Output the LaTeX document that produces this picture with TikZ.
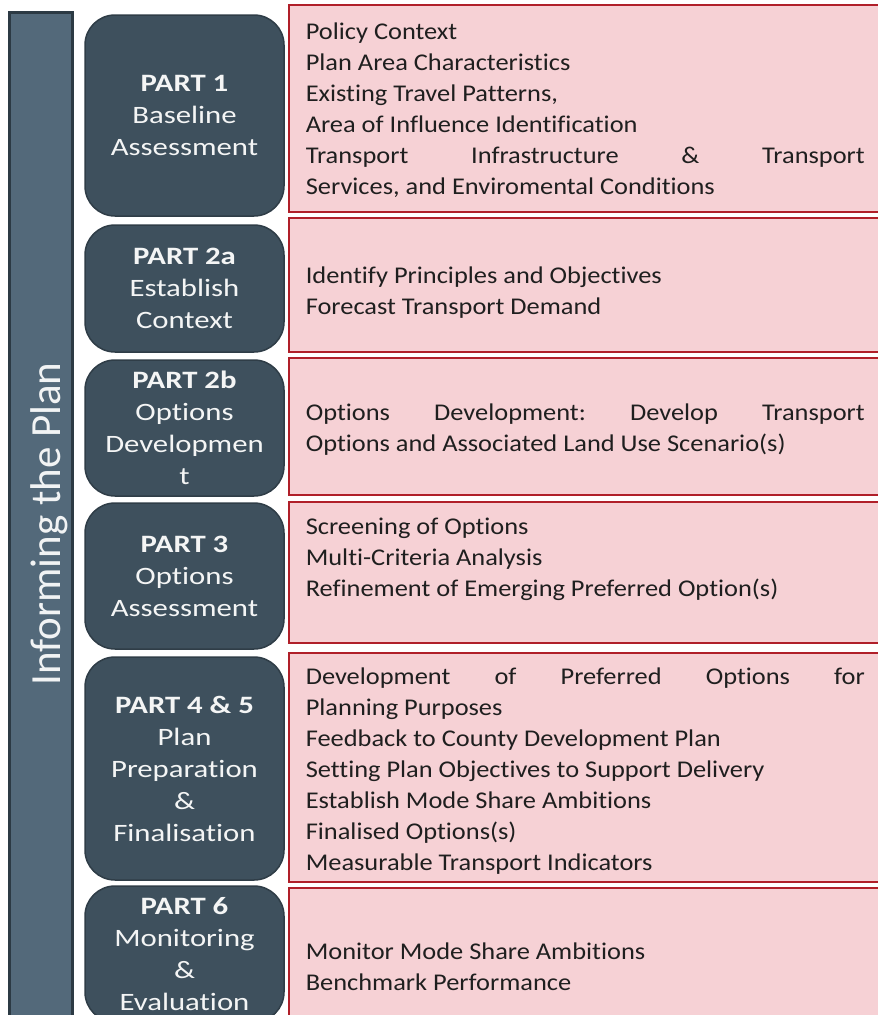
\documentclass[tikz,border=0pt]{standalone}
\usepackage{fontspec}
\setmainfont[Ligatures=NoCommon]{Carlito}
\newfontfamily\partfont[FakeStretch=1.23, Ligatures=NoCommon]{Carlito}
\newfontfamily\itemfont[FakeStretch=1.1, Ligatures=NoCommon]{Carlito}
\usetikzlibrary{positioning}
\definecolor{barfill}{HTML}{53697A}
\definecolor{barline}{HTML}{2C3A44}
\definecolor{partfill}{HTML}{3E505D}
\definecolor{partline}{HTML}{2F3D47}
\definecolor{itemfill}{HTML}{F6D1D5}
\definecolor{itemline}{HTML}{B01F29}
\tikzstyle{bar} = [rectangle, draw=barline, fill=barfill, line width=3pt, minimum width=63pt, minimum height=1040pt]
\tikzstyle{part} = [rectangle, draw=partline, fill=partfill, line width=1.5pt, rounded corners=30pt, minimum width=199pt, text=white!94!partfill, align=center, font=\partfont\fontsize{25}{32}\selectfont]
\tikzstyle{items} = [rectangle, draw=itemline, fill=itemfill, line width=2.8pt, minimum width=593pt]
\tikzstyle{itemtext} = [align=left, text=black!88, inner sep=0pt, font=\itemfont\fontsize{24}{31}\selectfont\frenchspacing]
\newcommand{\spread}[1]{\makebox[559pt][s]{#1}}

\begin{document}
\begin{tikzpicture}[x=1pt, y=-1pt]
   \fill[white] (0,0) rectangle (878,1015);
   \useasboundingbox (0,0) rectangle (878,1015);
   % Side bar
   \node [bar] (bar) at (40.5,532) {};
   \node [rotate=90, anchor=base, text=white!92!barfill, font=\fontsize{43}{50}\selectfont] (title) at (60,524) {Informing the Plan};
   % Place nodes
   \node [items, minimum height=207pt] (i1) at (585.5,108.5) {};
   \node [items, minimum height=134pt] (i2) at (585.5,285) {};
   \node [items, minimum height=137pt] (i3) at (585.5,426.5) {};
   \node [items, minimum height=141pt] (i4) at (585.5,572.5) {};
   \node [items, minimum height=229pt] (i5) at (585.5,767.5) {};
   \node [items, minimum height=154pt] (i6) at (585.5,965) {};

   \node [part, minimum height=201pt] (p1) at (184.5,115.5) {\textbf{PART 1}\\ Baseline\\ Assessment};
   \node [part, minimum height=127pt] (p2a) at (184.5,288.5) {\textbf{PART 2a}\\ Establish\\ Context};
   \node [part, minimum height=136pt] (p2b) at (184.5,428) {\textbf{PART 2b}\\ Options\\ Developmen\\ t};
   \node [part, minimum height=146pt] (p3) at (184.5,576) {\textbf{PART 3}\\ Options\\ Assessment};
   \node [part, minimum height=223pt] (p45) at (184.5,768.5) {\textbf{PART 4 \& 5}\\ Plan\\ Preparation\\ \&\\ Finalisation};
   \node [part, minimum height=136pt] (p6) at (184.5,954) {\textbf{PART 6}\\ Monitoring\\ \&\\ Evaluation};

   % Item lists
   \node [itemtext, right=18pt of i1.west, yshift=-2pt] (t1) {Policy Context\\ Plan Area Characteristics\\ Existing Travel Patterns,\\ Area of Influence Identification\\ \spread{Transport Infrastructure \& Transport}\\ Services, and Enviromental Conditions};
   \node [itemtext, right=18pt of i2.west, yshift=-8pt] (t2) {Identify Principles and Objectives\\ Forecast Transport Demand};
   \node [itemtext, right=18pt of i3.west, yshift=-3pt] (t3) {\spread{Options Development: Develop Transport}\\ Options and Associated Land Use Scenario(s)};
   \node [itemtext, right=18pt of i4.west, yshift=13pt] (t4) {Screening of Options\\ Multi-Criteria Analysis\\ Refinement of Emerging Preferred Option(s)};
   \node [itemtext, right=18pt of i5.west, yshift=-4pt] (t5) {\spread{Development of Preferred Options for}\\ Planning Purposes\\ Feedback to County Development Plan\\ Setting Plan Objectives to Support Delivery\\ Establish Mode Share Ambitions\\ Finalised Options(s)\\ Measurable Transport Indicators};
   \node [itemtext, right=18pt of i6.west, yshift=-2pt] (t6) {Monitor Mode Share Ambitions\\ Benchmark Performance};
\end{tikzpicture}
\end{document}
